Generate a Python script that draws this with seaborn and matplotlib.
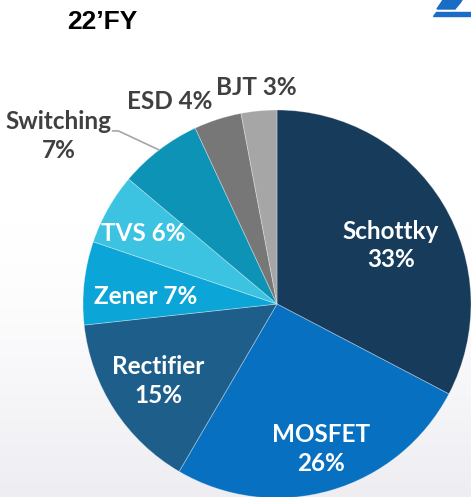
import numpy as np
import matplotlib
matplotlib.use("Agg")
import matplotlib.pyplot as plt
from matplotlib.patches import Polygon
import seaborn as sns

# data
labels = ["Schottky", "MOSFET", "Rectifier", "Zener", "TVS", "Switching", "ESD", "BJT"]
shares = [33, 26, 15, 7, 6, 7, 4, 3]
colors = ["#173b5b", "#0870c1", "#1e5e8b", "#0ca5d7", "#3bc3e1", "#0d93b6", "#777777", "#a6a6a6"]
title = "22\u2019FY"

# label styling: (text layout, radial distance as fraction of radius, angle nudge deg, inside?)
label_fmt = {
    "Schottky": ("{n}\n{p}%", 0.66, -4, True),
    "MOSFET": ("{n}\n{p}%", 0.78, 1, True),
    "Rectifier": ("{n}\n{p}%", 0.73, 0, True),
    "Zener": ("{n} {p}%", 0.68, 3, True),
    "TVS": ("{n} {p}%", 0.78, 1.5, True),
    "Switching": ("{n}\n{p}%", 1.42, 15, False),
    "ESD": ("{n} {p}%", 1.18, 10, False),
    "BJT": ("{n} {p}%", 1.12, 0, False),
}

sns.set_theme(style="white")
plt.rcParams["font.family"] = ["Lato", "DejaVu Sans"]

W, H = 471, 497
fig = plt.figure(figsize=(W / 100, H / 100), dpi=100)

# soft background gradient
bg = fig.add_axes([0, 0, 1, 1], zorder=0)
grad = np.linspace(0, 1, 256)[:, None]
grad = np.clip((grad - 0.45) / 0.55, 0, 1) ** 1.5
img = np.ones((256, 2, 3))
img[:, :, :] = (1 - grad[:, :, None] * 0.07)
img[:, :, 2] = 1 - grad[:, :] * 0.05
bg.imshow(img, aspect="auto", extent=[0, 1, 0, 1], origin="upper")
bg.set_axis_off()

ax = fig.add_axes([0, 0, 1, 1], zorder=1)
ax.patch.set_alpha(0)
R = 194
cx, cy = 277, H - 304
wedges, _ = ax.pie(shares, colors=colors, startangle=90, counterclock=False,
                   radius=R, center=(cx, cy),
                   wedgeprops=dict(edgecolor=(1, 1, 1, 0.35), linewidth=0.6))
ax.set_xlim(0, W)
ax.set_ylim(0, H)
ax.set_aspect("equal")
ax.set_axis_off()

for w, name, val in zip(wedges, labels, shares):
    fmt, dist, nudge, inside = label_fmt[name]
    mid = np.deg2rad((w.theta1 + w.theta2) / 2 + nudge)
    x = cx + dist * R * np.cos(mid)
    y = cy + dist * R * np.sin(mid)
    ax.text(x, y, fmt.format(n=name, p=val), ha="center", va="center",
            fontsize=17.5, fontweight="bold", linespacing=1.3,
            color="white" if inside else "#404040")
    if name == "Switching":
        m = np.deg2rad((w.theta1 + w.theta2) / 2)
        p0 = (cx + R * np.cos(m), cy + R * np.sin(m))
        a1 = np.deg2rad(132.5)
        p1 = (cx + 1.21 * R * np.cos(a1), cy + 1.21 * R * np.sin(a1))
        p2 = (p1[0] - 6, p1[1])
        ax.plot([p0[0], p1[0], p2[0]], [p0[1], p1[1], p2[1]], color="#a6a6a6", lw=1.2)

fig.text(102 / W, 1 - 22 / H, title, ha="center", va="center",
         fontsize=19, fontweight="bold", family=["Liberation Sans", "DejaVu Sans"], color="black")

# partial logo in the corner
logo_col = "#1a6cc4"
fig.patches.append(Polygon([[436 / W, 1 - 12 / H], [471 / W, 1 - 12 / H], [471 / W, 1 - 15.5 / H],
                            [433 / W, 1 - 15.5 / H]], closed=True, transform=fig.transFigure,
                           color=logo_col))
fig.patches.append(Polygon([[437 / W, 1 - 9 / H], [455 / W, 1 - 9 / H], [460 / W, 1 - 3 / H],
                            [462 / W, 1], [443 / W, 1]], closed=True, transform=fig.transFigure,
                           color=logo_col))

fig.savefig("out.png", dpi=100)
